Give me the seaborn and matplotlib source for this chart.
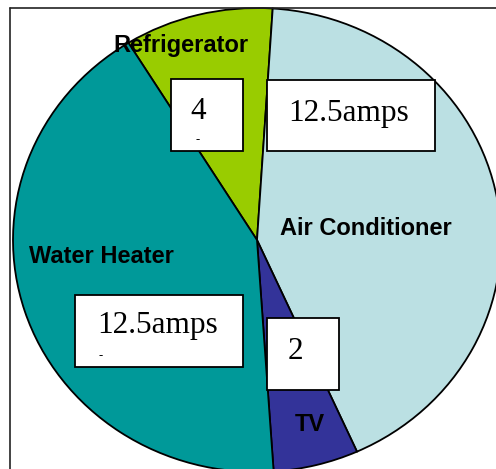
import matplotlib
matplotlib.use("Agg")
import matplotlib.pyplot as plt
import seaborn as sns
from matplotlib.patches import Rectangle

# slice sizes (clockwise from the Refrigerator wedge)
appliances = ["Refrigerator", "Air Conditioner", "TV", "Water Heater"]
slice_sizes = [3.5, 15, 2, 15]
colors = ["#99CC00", "#BBE0E3", "#333399", "#009999"]

# text boxes laid over the pie
box_labels = ["4", "12.5amps", "2", "12.5amps"]

W, H = 496, 469
sns.set_style("white")
fig = plt.figure(figsize=(W / 100, H / 100), dpi=100)

# pie, slightly stretched horizontally like the original
ax = fig.add_axes([0, 0, 1, 1])
cx, cy, rx, ry = 257, 240, 244, 232
ax.pie(slice_sizes, colors=colors, startangle=121.8, counterclock=False,
       wedgeprops=dict(edgecolor="black", linewidth=1.3))
ax.set_aspect("auto")
ax.set_xlim(-cx / rx, (W - cx) / rx)
ax.set_ylim(-(H - cy) / ry, cy / ry)
ax.axis("off")

# overlay in pixel coords for frame, labels and boxes
ov = fig.add_axes([0, 0, 1, 1])
ov.set_xlim(0, W)
ov.set_ylim(H, 0)
ov.axis("off")
ov.patch.set_alpha(0)

ov.plot([10, 10], [8, H + 2], color="#222222", lw=1.2)
ov.plot([10, W + 2], [8, 8], color="#222222", lw=1.2)

label_pos = [(113, 52), (280, 235), (295, 431), (29, 263)]
for name, (x, y) in zip(appliances, label_pos):
    ov.text(x, y, name, ha="left", va="baseline", fontsize=17, color="black",
            fontweight="bold", family="Liberation Sans", zorder=5)

boxes = [(171, 79, 72, 72), (267, 80, 168, 71), (267, 318, 72, 72), (75, 295, 168, 72)]
text_pos = [(190, 119), (288, 121), (288, 359), (97, 333)]
for lab, (bx, by, bw, bh), (tx, ty) in zip(box_labels, boxes, text_pos):
    ov.add_patch(Rectangle((bx, by), bw, bh, facecolor="white",
                           edgecolor="black", lw=1.3, zorder=6))
    ov.text(tx, ty, lab, ha="left", va="baseline", fontsize=22.5, color="black",
            family="Liberation Serif", zorder=7)

# little dash marks under two of the values
for x, y in [(198, 140), (101, 356)]:
    ov.text(x, y, "-", ha="center", va="center", fontsize=9, color="black",
            family="Liberation Serif", zorder=7)

fig.savefig("out.png", dpi=100)
